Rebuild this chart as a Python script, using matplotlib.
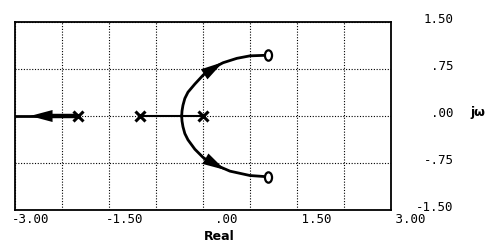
import matplotlib

matplotlib.use("Agg")
import matplotlib.pyplot as plt
from matplotlib.path import Path
from matplotlib.transforms import Affine2D, ScaledTranslation

# poles / zeros
POLES_RE = [-2.0, -1.0, 0.0]
POLES_IM = [0.0, 0.0, 0.0]
ZEROS_RE = [1.04, 1.04]
ZEROS_IM = [0.97, -0.97]

# upper and lower complex branches (breakaway -> zero)
UPPER_RE = [-0.34, -0.335, -0.32, -0.29, -0.24, -0.13, 0.0, 0.11, 0.32, 0.54, 0.75, 1.04]
UPPER_IM = [0.0, 0.08, 0.17, 0.28, 0.38, 0.51, 0.65, 0.74, 0.85, 0.92, 0.96, 0.97]
LOWER_RE = [-0.34, -0.335, -0.32, -0.29, -0.24, -0.13, 0.0, 0.13, 0.43, 0.75, 1.04]
LOWER_IM = [0.0, -0.08, -0.17, -0.28, -0.38, -0.53, -0.66, -0.75, -0.88, -0.95, -0.97]

# real-axis segments
SEG_MID_RE = [-1.0, 0.0]
SEG_LEFT_THICK_RE = [-2.0, -2.46]
SEG_LEFT_THIN_RE = [-2.46, -3.0]

# arrow (direction point, tip) pairs; only the head is drawn
ARROWS = [
    ((-2.2, 0.0), (-2.76, 0.0)),
    ((-0.22, 0.51), (0.32, 0.86)),
    ((-0.19, -0.55), (0.35, -0.86)),
]

X_MAJOR = [-3.0, -1.5, 0.0, 1.5, 3.0]
X_LABELS = ["-3.00", "-1.50", "  .00", " 1.50", " 3.00"]
X_MINOR = [-2.25, -0.75, 0.75, 2.25]
Y_TICKS = [-1.5, -0.75, 0.0, 0.75, 1.5]
Y_LABELS = ["-1.50", "-.75", ".00", ".75", "1.50"]

W, H = 496, 249
fig = plt.figure(figsize=(W / 100, H / 100), dpi=100)
ax = fig.add_axes([15 / W, 39 / H, 376 / W, 188 / H])
ax.set_xlim(-3, 3)
ax.set_ylim(-1.5, 1.5)

ax.set_xticks(X_MAJOR)
ax.set_xticklabels(X_LABELS, family="DejaVu Sans Mono", fontsize=9, ha="left")
ax.set_xticks(X_MINOR, minor=True)
ax.set_yticks(Y_TICKS)
ax.set_yticklabels(Y_LABELS, family="DejaVu Sans Mono", fontsize=9, ha="right")
ax.yaxis.tick_right()
ax.tick_params(axis="both", which="both", length=0)
ax.tick_params(axis="x", pad=2)
ax.tick_params(axis="y", pad=45)
for lab in ax.get_xticklabels():
    lab.set_transform(lab.get_transform() + ScaledTranslation(-3 / 100, 0, fig.dpi_scale_trans))
for lab in ax.get_yticklabels():
    lab.set_transform(lab.get_transform() + ScaledTranslation(0, 4 / 100, fig.dpi_scale_trans))

ax.grid(True, which="both", color="black", linestyle=(0, (1, 1.5)), linewidth=0.8)
for sp in ax.spines.values():
    sp.set_linewidth(1.3)

ax.set_xlabel("Real", fontsize=9, fontweight="bold")
ax.xaxis.set_label_coords(204 / 376, -0.105)
ax.yaxis.set_label_position("right")
ax.set_ylabel("jω", fontsize=9, fontweight="bold", rotation=0, ha="left", va="center")
ax.yaxis.set_label_coords(1.21, 0.52)

# real-axis locus
ax.plot(SEG_MID_RE, [0, 0], color="black", lw=1.5, solid_capstyle="butt")
ax.plot(SEG_LEFT_THICK_RE, [0, 0], color="black", lw=3.2, solid_capstyle="butt")
ax.plot(SEG_LEFT_THIN_RE, [0, 0], color="black", lw=2.0, solid_capstyle="butt", clip_on=False)

# complex branches
ax.plot(UPPER_RE, UPPER_IM, color="black", lw=2.0, solid_joinstyle="round")
ax.plot(LOWER_RE, LOWER_IM, color="black", lw=2.0, solid_joinstyle="round")

for base, tip in ARROWS:
    ax.annotate("", xy=tip, xytext=base,
                arrowprops=dict(arrowstyle="-|>,head_length=1.35,head_width=0.36",
                                color="black", lw=0, mutation_scale=12,
                                shrinkA=0, shrinkB=0))

ax.plot(POLES_RE, POLES_IM, linestyle="none", marker="x", color="black",
        markersize=6.5, markeredgewidth=2.2, zorder=5)

oval = Path.unit_circle().transformed(Affine2D().scale(0.68, 1.0))
ax.plot(ZEROS_RE, ZEROS_IM, linestyle="none", marker=oval, color="black",
        markerfacecolor="white", markersize=7.5, markeredgewidth=1.6, zorder=5)

fig.savefig("out.png", dpi=100)
